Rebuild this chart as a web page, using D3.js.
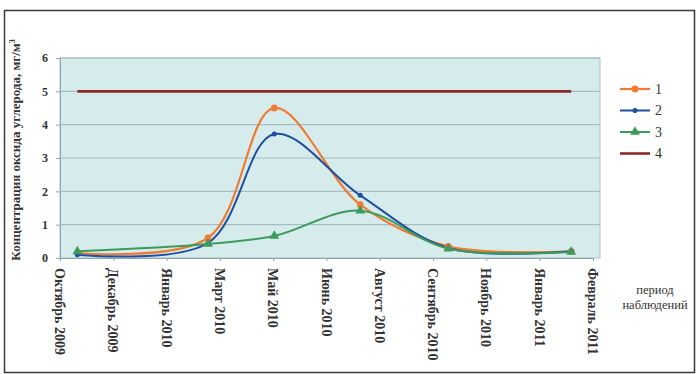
<!DOCTYPE html>
<html>
<head>
<meta charset="utf-8">
<script src="https://cdn.jsdelivr.net/npm/d3@7"></script>
<style>
  body { margin: 0; background: #fff; }
  svg { display: block; }
  svg text { font-family: "Liberation Serif", "Times New Roman", "DejaVu Serif", serif; }
</style>
</head>
<body>
<script>
// Observation dates (axis ticks) and their labels
const tickDates = ["2009-10-20", "2009-12-08", "2010-01-26", "2010-03-16", "2010-05-04", "2010-06-22",
                   "2010-08-10", "2010-09-28", "2010-11-16", "2011-01-04", "2011-02-22"];
const tickLabels = ["Октябрь 2009", "Декабрь 2009", "Январь 2010", "Март 2010", "Май 2010", "Июнь 2010",
                    "Август 2010", "Сентябрь 2010", "Ноябрь 2010", "Январь 2011", "Февраль 2011"];

// Sampling dates
const sampleDates = ["2009-11-05", "2010-03-05", "2010-05-05", "2010-07-23", "2010-10-12", "2011-02-02"];

// Concentrations, mg/m3
const series1 = [0.15, 0.6, 4.5, 1.6, 0.35, 0.2];
const series2 = [0.1, 0.45, 3.72, 1.88, 0.3, 0.2];
const series3 = [0.2, 0.42, 0.66, 1.42, 0.28, 0.18];
const series4 = [5, 5];            // limit, first and last sample date
const seriesNames = ["1", "2", "3", "4"];
const yTicks = [0, 1, 2, 3, 4, 5, 6];

const W = 698, H = 374;
const plot = { left: 60, top: 58, right: 600, bottom: 258 };
const parse = d3.utcParse("%Y-%m-%d");

const svg = d3.select("body").append("svg").attr("width", W).attr("height", H);

// outer frame
svg.append("rect")
  .attr("x", 4.5).attr("y", 10.5).attr("width", 690).attr("height", 362)
  .attr("fill", "#fff").attr("stroke", "#3a3a3a").attr("stroke-width", 1.5);

const x = d3.scaleUtc()
  .domain([parse(tickDates[0]), parse(tickDates[tickDates.length - 1])])
  .range([plot.left, 593]);
const y = d3.scaleLinear().domain([0, 6]).range([plot.bottom, plot.top]);

// plot background
svg.append("rect")
  .attr("x", plot.left).attr("y", plot.top)
  .attr("width", plot.right - plot.left).attr("height", plot.bottom - plot.top)
  .attr("fill", "#d6ecec").attr("stroke", "#a9c2c6").attr("stroke-width", 1);

// gridlines + y axis
const yAxis = svg.append("g")
  .attr("transform", `translate(${plot.left},0)`)
  .call(d3.axisLeft(y).tickValues(yTicks).tickSize(4).tickPadding(8).tickFormat(d3.format("d")));
yAxis.attr("font-family", null);
yAxis.select(".domain").attr("stroke", "#8fa6aa");
yAxis.selectAll(".tick line").attr("stroke", "#8fa6aa");
yAxis.selectAll(".tick text")
  .attr("font-size", 12).attr("font-weight", "bold")
  .attr("fill", "#333");

svg.append("g").selectAll("line.grid")
  .data(yTicks.filter((d) => d > 0))
  .join("line")
  .attr("x1", plot.left).attr("x2", plot.right)
  .attr("y1", (d) => y(d)).attr("y2", (d) => y(d))
  .attr("stroke", "#a6bec2").attr("stroke-width", 1.2);

// x axis
const xAxis = svg.append("g")
  .attr("transform", `translate(0,${plot.bottom})`)
  .call(d3.axisBottom(x).tickValues(tickDates.map(parse)).tickSize(3).tickFormat(""));
xAxis.select(".domain").attr("stroke", "#8fa6aa");
xAxis.selectAll(".tick line").attr("stroke", "#8fa6aa");

svg.append("g").selectAll("text")
  .data(tickDates.map((d, i) => ({ date: parse(d), label: tickLabels[i] })))
  .join("text")
  .attr("transform", (d) => `translate(${x(d.date)},268) rotate(90)`)
  .attr("dy", "0.35em")
  .attr("font-size", 14).attr("font-weight", "bold").attr("fill", "#333")
  .text((d) => d.label);

// series
const colors = ["#f07c33", "#1f4fa0", "#3c9a5c", "#8c2a28"];
const line = d3.line()
  .x((d) => x(d.date)).y((d) => y(d.v))
  .curve(d3.curveCatmullRom.alpha(0.5));

const toPts = (vals, dates) => vals.map((v, i) => ({ v, date: parse(dates[i]) }));
const data = [
  toPts(series1, sampleDates),
  toPts(series2, sampleDates),
  toPts(series3, sampleDates),
  toPts(series4, [sampleDates[0], sampleDates[sampleDates.length - 1]]),
];
const widths = [2.2, 2, 2, 2.6];

svg.append("g").selectAll("path")
  .data(data)
  .join("path")
  .attr("d", line)
  .attr("fill", "none")
  .attr("stroke", (d, i) => colors[i])
  .attr("stroke-width", (d, i) => widths[i]);

const symbols = [
  d3.symbol(d3.symbolCircle, 36),
  d3.symbol(d3.symbolCircle, 20),
  d3.symbol(d3.symbolTriangle, 42),
];
[0, 1, 2].forEach((s) => {
  svg.append("g").selectAll("path")
    .data(data[s])
    .join("path")
    .attr("transform", (d) => `translate(${x(d.date)},${y(d.v)})`)
    .attr("d", symbols[s]())
    .attr("fill", colors[s]);
});

// legend
const legend = svg.append("g").selectAll("g")
  .data(seriesNames)
  .join("g")
  .attr("transform", (d, i) => `translate(620,${89 + i * 21.5})`);
legend.append("line")
  .attr("x1", 0).attr("x2", 30)
  .attr("stroke", (d, i) => colors[i])
  .attr("stroke-width", (d, i) => widths[i]);
legend.filter((d, i) => i < 3).append("path")
  .attr("transform", "translate(15,0)")
  .attr("d", (d, i) => symbols[i]())
  .attr("fill", (d, i) => colors[i]);
legend.append("text")
  .attr("x", 35).attr("dy", "0.35em")
  .attr("font-size", 14).attr("fill", "#333")
  .text((d) => d);

// axis titles
svg.append("text")
  .attr("transform", `translate(15,150) rotate(-90)`)
  .attr("text-anchor", "middle").attr("dy", "0.35em")
  .attr("font-size", 13).attr("font-weight", "bold").attr("fill", "#333")
  .html("Концентрация  оксида углерода, мг/м<tspan dy='-5' font-size='8'>3</tspan>");

const xTitle = svg.append("text")
  .attr("text-anchor", "middle").attr("font-size", 12.5).attr("fill", "#333");
xTitle.append("tspan").attr("x", 655).attr("y", 294).text("период");
xTitle.append("tspan").attr("x", 655).attr("y", 309).text("наблюдений");
</script>
</body>
</html>
